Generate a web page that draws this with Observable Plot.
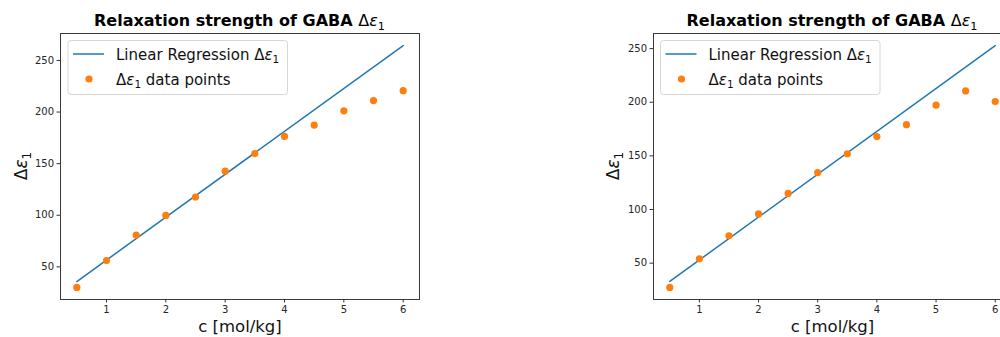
<!DOCTYPE html>
<html>
<head>
<meta charset="utf-8">
<script src="https://cdn.jsdelivr.net/npm/d3@7"></script>
<script src="https://cdn.jsdelivr.net/npm/@observablehq/plot@0.6"></script>
<style>
  html, body { margin: 0; padding: 0; background: white; overflow: hidden; }
  #wrap { position: relative; width: 1000px; height: 337px; overflow: hidden; background: white; font-family: "DejaVu Sans", sans-serif; }
  .panel { position: absolute; top: 0; }
  #overlay { position: absolute; left: 0; top: 0; pointer-events: none; }
</style>
</head>
<body>
<div id="wrap"></div>
<script>
// ---- data ----
const concentrations = [0.5, 1, 1.5, 2, 2.5, 3, 3.5, 4, 4.5, 5, 5.5, 6];
const leftPoints  = [30.1, 56.1, 80.8, 99.8, 117.7, 142.7, 159.8, 176.4, 187.4, 201.2, 211.1, 220.7];
const rightPoints = [27.4, 54.0, 75.5, 95.9, 115.0, 134.4, 152.0, 168.0, 179.1, 197.3, 210.5, 200.7];
const regressionX = [0.5, 6];
const leftRegressionY  = [35.8, 264.4];
const rightRegressionY = [33.0, 252.8];
const xTicks = [1, 2, 3, 4, 5, 6];
const yTicks = [50, 100, 150, 200, 250];
const titleMain = "Relaxation strength of GABA";
const xLabel = "c [mol/kg]";
const legendLine = "Linear Regression";
const legendDots = "data points";

const blue = "#1f77b4", orange = "#ff7f0e";

function padded(vals) {
  const lo = d3.min(vals), hi = d3.max(vals), p = (hi - lo) * 0.05;
  return [lo - p, hi + p];
}

function panel(points, lineY, opts) {
  const pts = concentrations.map((c, i) => ({c, v: points[i]}));
  const ln = regressionX.map((c, i) => ({c, v: lineY[i]}));
  const xd = padded(concentrations);
  const yd = padded(points.concat(lineY));
  return Plot.plot({
    width: opts.width, height: 337,
    marginLeft: opts.ml, marginRight: opts.mr, marginTop: 33, marginBottom: 38,
    style: {fontFamily: "DejaVu Sans", fontSize: "10px", color: "#262626", background: "white"},
    x: {domain: xd},
    y: {domain: yd},
    marks: [
      Plot.line(ln, {x: "c", y: "v", stroke: blue, strokeWidth: 1.5}),
      Plot.dot(pts, {x: "c", y: "v", r: 3.6, fill: orange, stroke: "none"}),
      Plot.frame({stroke: "#3a3a3a", strokeWidth: 1}),
      Plot.axisX(xTicks, {tickSize: 3.5, tickPadding: 3, label: null, stroke: "#333", fill: "#262626"}),
      Plot.axisY(yTicks, {tickSize: 3.5, tickPadding: 3, label: null, stroke: "#333", fill: "#262626"}),
      Plot.text([xLabel], {frameAnchor: "bottom", dy: 27, lineAnchor: "middle", fontSize: 16.5, fill: "#111"})
    ]
  });
}

const wrap = document.getElementById("wrap");
const left = panel(leftPoints, leftRegressionY, {width: 500, ml: 60, mr: 81});
left.classList.add("panel"); left.style.left = "0px";
wrap.appendChild(left);
const right = panel(rightPoints, rightRegressionY, {width: 520, ml: 153, mr: 9});
right.classList.add("panel"); right.style.left = "500px";
wrap.appendChild(right);

// ---- overlay: titles, y labels and legends ----
const ov = d3.select(wrap).append("svg").attr("id", "overlay").attr("width", 1000).attr("height", 337)
  .style("font-family", "DejaVu Sans");

function mathSym(sel, size) {
  sel.append("tspan").text("Δ").style("font-weight", "normal");
  sel.append("tspan").text("ε").style("font-style", "italic").style("font-weight", "normal");
  sel.append("tspan").text("1").style("font-weight", "normal").style("font-size", (size * 0.7) + "px").attr("dy", size * 0.22);
}

function title(cx) {
  const t = ov.append("text").attr("x", cx).attr("y", 26).attr("text-anchor", "middle")
    .style("font-size", "16px").attr("fill", "#000");
  t.append("tspan").text(titleMain + " ").style("font-weight", "bold");
  mathSym(t, 16);
}

function ylab(cx, cy) {
  const t = ov.append("text").attr("transform", `translate(${cx},${cy}) rotate(-90)`)
    .attr("text-anchor", "middle").attr("y", 6).style("font-size", "17px").attr("fill", "#111");
  mathSym(t, 17);
}

function legend(x0, y0, w, h) {
  const g = ov.append("g");
  g.append("rect").attr("x", x0 + 0.5).attr("y", y0 + 0.5).attr("width", w).attr("height", h)
    .attr("rx", 3).attr("fill", "rgba(255,255,255,0.8)").attr("stroke", "#d6d6d6");
  g.append("line").attr("x1", x0 + 5.5).attr("x2", x0 + 36.5).attr("y1", y0 + 14).attr("y2", y0 + 14)
    .attr("stroke", blue).attr("stroke-width", 1.5);
  g.append("circle").attr("cx", x0 + 21.5).attr("cy", y0 + 39).attr("r", 3.6).attr("fill", orange);
  const t1 = g.append("text").attr("x", x0 + 48.5).attr("y", y0 + 19.5).style("font-size", "15px").attr("fill", "#111");
  t1.append("tspan").text(legendLine + " ");
  mathSym(t1, 15);
  const t2 = g.append("text").attr("x", x0 + 48.5).attr("y", y0 + 44.5).style("font-size", "15px").attr("fill", "#111");
  mathSym(t2, 15);
  t2.append("tspan").attr("dy", -15 * 0.22).text(" " + legendDots);
}

title(239.5);
title(832);
ylab(21, 166);
ylab(613, 166);
legend(67.5, 40, 219.5, 54);
legend(660, 40, 219.5, 54);
</script>
</body>
</html>
